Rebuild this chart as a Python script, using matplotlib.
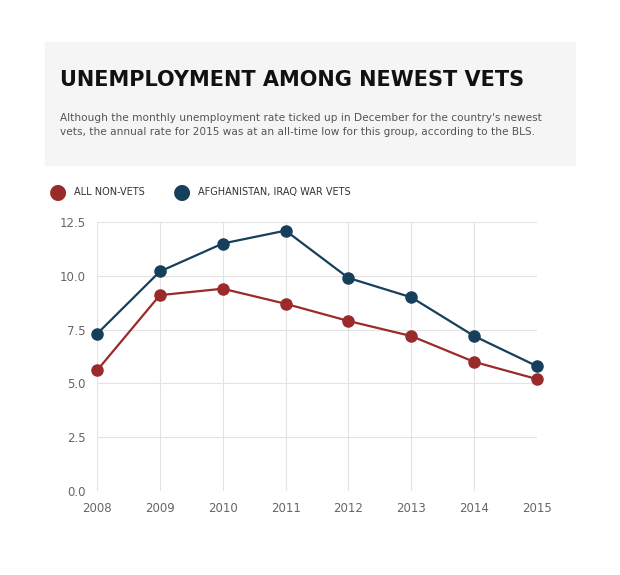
import matplotlib.pyplot as plt
from matplotlib.patches import Rectangle

years = ["2008", "2009", "2010", "2011", "2012", "2013", "2014", "2015"]
non_vets = [5.6, 9.1, 9.4, 8.7, 7.9, 7.2, 6.0, 5.2]
war_vets = [7.3, 10.2, 11.5, 12.1, 9.9, 9.0, 7.2, 5.8]

W, H = 620, 575
fig = plt.figure(figsize=(W / 100, H / 100), dpi=100)
fig.patch.set_facecolor("white")

# header box
fig.patches.append(Rectangle((45 / W, 1 - 165 / H), 530 / W, 123 / H,
                             transform=fig.transFigure, color="#f5f5f5", zorder=0))
fig.text(60 / W, 1 - 80 / H, "UNEMPLOYMENT AMONG NEWEST VETS", fontsize=15,
         fontweight="black", color="#111111", va="center")
fig.text(60 / W, 1 - 125 / H,
         "Although the monthly unemployment rate ticked up in December for the country's newest\n"
         "vets, the annual rate for 2015 was at an all-time low for this group, according to the BLS.",
         fontsize=7.6, color="#555555", va="center", linespacing=1.6)

red = "#9b2a2a"
blue = "#163f5c"

# legend
fig.text(58 / W, 1 - 192 / H, "●", color=red, fontsize=15, ha="center", va="center")
fig.text(74 / W, 1 - 192 / H, "ALL NON-VETS", fontsize=7, color="#333333", va="center")
fig.text(182 / W, 1 - 192 / H, "●", color=blue, fontsize=15, ha="center", va="center")
fig.text(198 / W, 1 - 192 / H, "AFGHANISTAN, IRAQ WAR VETS", fontsize=7, color="#333333", va="center")

ax = fig.add_axes([97 / W, 1 - 491 / H, 440 / W, 269 / H])
x = list(range(len(years)))
ax.plot(x, non_vets, color=red, lw=1.6, marker="o", ms=8, zorder=3, clip_on=False)
ax.plot(x, war_vets, color=blue, lw=1.6, marker="o", ms=8, zorder=3, clip_on=False)
ax.set_ylim(0, 12.5)
ax.set_xlim(0, 7)
ax.set_yticks([0, 2.5, 5, 7.5, 10, 12.5])
ax.set_yticklabels(["0.0", "2.5", "5.0", "7.5", "10.0", "12.5"])
ax.set_xticks(x)
ax.set_xticklabels(years)
ax.grid(color="#e3e3e3", lw=0.8)
for s in ax.spines.values():
    s.set_visible(False)
ax.tick_params(length=0, labelsize=8.5, labelcolor="#666666", pad=8)

fig.savefig("out.png", dpi=100)
